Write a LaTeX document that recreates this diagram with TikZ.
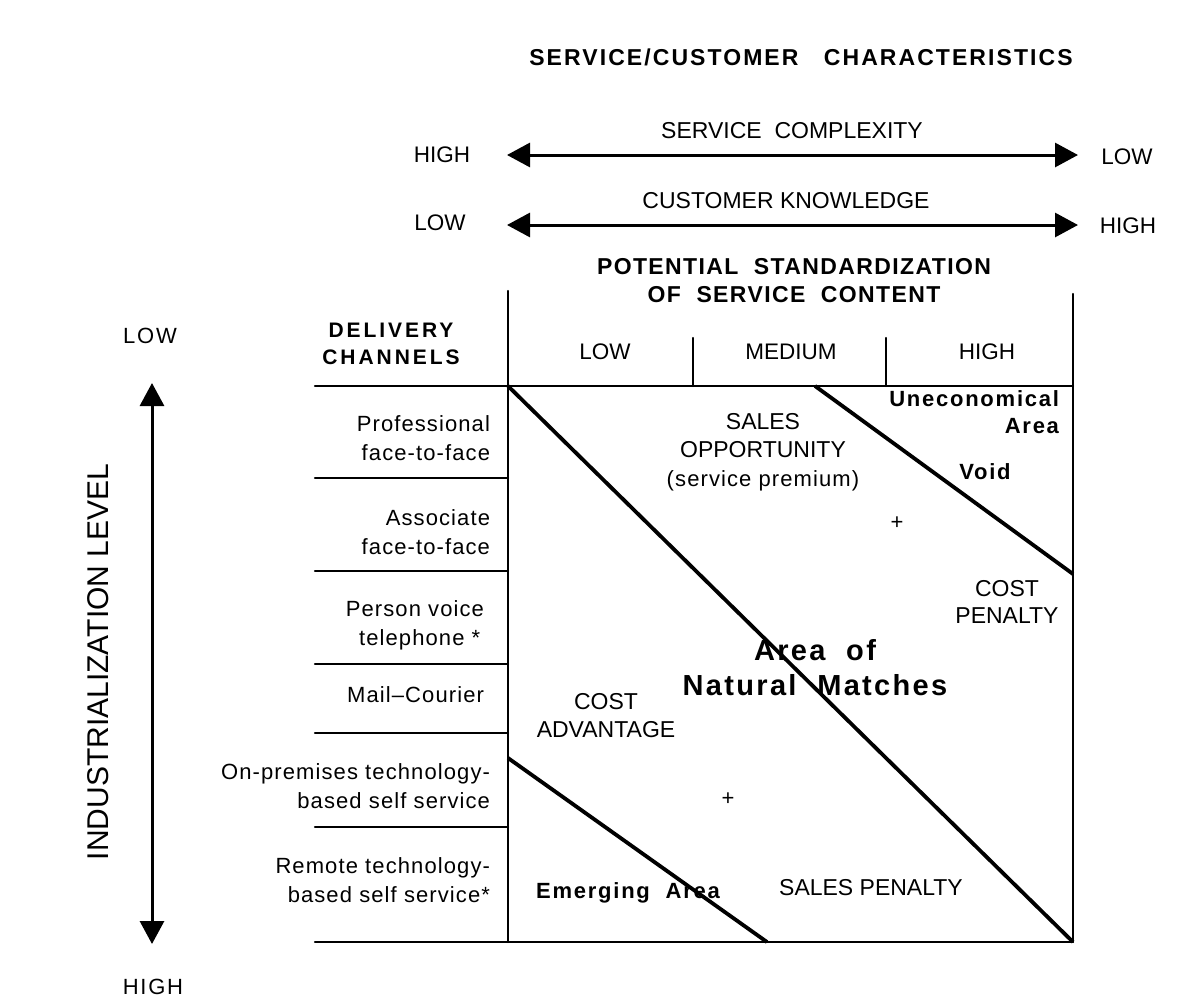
\documentclass[tikz,border=0pt]{standalone}
\usepackage{fontspec}
\setmainfont{Liberation Sans}
\newfontfamily\lsA[LetterSpace=5]{Liberation Sans}
\newfontfamily\lsB[LetterSpace=8]{Liberation Sans}
\newfontfamily\lsC[LetterSpace=14]{Liberation Sans}
\newfontfamily\lsT[LetterSpace=9]{Liberation Sans}
\newfontfamily\lsP[LetterSpace=6]{Liberation Sans}
\usetikzlibrary{arrows.meta}
\begin{document}
\begin{tikzpicture}[x=1pt,y=-1pt,
  txt/.style={inner sep=0pt, outer sep=0pt, align=center, font=\fontsize{23}{28.5}\selectfont},
  rowlab/.style={inner sep=0pt, outer sep=0pt, align=right, anchor=east, font=\lsA\fontsize{22}{29}\selectfont},
  boldlab/.style={inner sep=0pt, outer sep=0pt, align=center, font=\lsB\bfseries\fontsize{22}{26}\selectfont},
  grid/.style={line width=2.4pt, line cap=round},
  diag/.style={line width=3.8pt},
  dblarrow/.style={line width=3pt, {Triangle[width=24pt,length=23pt]}-{Triangle[width=24pt,length=23pt]}}
]
\useasboundingbox (0,0) rectangle (1181,1004);

% ---- header texts
\node[txt, font=\lsT\bfseries\fontsize{23}{28}\selectfont] (title) at (801,57) {SERVICE/CUSTOMER\ \ \ CHARACTERISTICS};
\node[txt] (sc) at (792,131) {SERVICE\ \ COMPLEXITY};
\node[txt] (ck) at (786,201) {CUSTOMER KNOWLEDGE};
\node[txt, font=\fontsize{22.5}{26}\selectfont] (sch) at (442,155) {HIGH};
\node[txt, font=\fontsize{22.5}{26}\selectfont] (scl) at (1127,157) {LOW};
\node[txt, font=\fontsize{22.5}{26}\selectfont] (ckl) at (440,223) {LOW};
\node[txt, font=\fontsize{22.5}{26}\selectfont] (ckh) at (1128,226) {HIGH};
\coordinate (a1l) at (507,155);
\coordinate (a1r) at (1078,155);
\coordinate (a2l) at (507,225);
\coordinate (a2r) at (1078,225);
\draw[dblarrow] (a1l) -- (a1r);
\draw[dblarrow] (a2l) -- (a2r);

\node[txt, font=\lsP\bfseries\fontsize{23}{28}\selectfont] (pot) at (794,281) {POTENTIAL\ \ STANDARDIZATION\\OF\ \ SERVICE\ \ CONTENT};

% ---- left axis
\node[txt, font=\fontsize{22}{26}\selectfont\lsB] (il) at (150,336) {LOW};
\node[txt, font=\fontsize{22}{26}\selectfont\lsB] (ih) at (153,987) {HIGH};
\node[txt, font=\fontsize{30}{34}\selectfont, rotate=90] (ind) at (98,662) {INDUSTRIALIZATION LEVEL};
\coordinate (vt) at (152,383);
\coordinate (vb) at (152,944);
\draw[dblarrow] (vt) -- (vb);

% ---- grid
\coordinate (TL) at (508,386);
\coordinate (TR) at (1073,386);
\coordinate (BL) at (508,942);
\coordinate (BR) at (1073,942);
\coordinate (LT) at (508,291);
\coordinate (RT) at (1073,294);
\draw[grid] (LT) -- (BL);
\draw[grid] (RT) -- (BR);
\draw[grid] (315,386) -- (TR);
\draw[grid] (315,942) -- (BR);
\draw[grid] (693,338) -- (693,386);
\draw[grid] (886,338) -- (886,386);
\foreach \yy in {478,571,664,733,827} {\draw[grid] (315,\yy) -- (508,\yy);}

\node[txt, font=\fontsize{22.5}{26}\selectfont] (hlow) at (605,352) {LOW};
\node[txt, font=\fontsize{22.5}{26}\selectfont] (hmed) at (791,352) {MEDIUM};
\node[txt, font=\fontsize{22.5}{26}\selectfont] (hhigh) at (987,352) {HIGH};

\node[txt, font=\lsC\bfseries\fontsize{21}{27}\selectfont] (dc) at (391,344) {DELIVERY\\CHANNELS};

% ---- row labels
\node[rowlab] (r1) at (490,438) {Professional\\face-to-face};
\node[rowlab] (r2) at (490,532) {Associate\\face-to-face};
\node[rowlab] (r3) at (484,625) {Person voice\\telephone *\,};
\node[rowlab] (r4) at (484,695) {Mail–Courier};
\node[rowlab] (r5) at (490,786) {On-premises technology-\\based self service};
\node[rowlab] (r6) at (490,880) {Remote technology-\\based self service*};

% ---- diagonals
\coordinate (u1) at (815,386);
\coordinate (u2) at (1073,574);
\coordinate (l1) at (508,758);
\coordinate (l2) at (767,942);
\draw[diag] (TL) -- (BR);
\draw[diag] (u1) -- (u2);
\draw[diag] (l1) -- (l2);

% ---- region labels
\node[boldlab, align=right, anchor=north east, font=\lsB\bfseries\fontsize{22}{27}\selectfont] (unec) at (1059,391) {Uneconomical\\Area};
\node[boldlab] (void) at (985,472) {Void};
\node[txt, font=\fontsize{23}{28.5}\selectfont] (sales) at (763,452) {SALES\\OPPORTUNITY\\{\lsA\fontsize{22}{28.5}\selectfont(service premium)}};
\node[txt, font=\fontsize{22}{26}\selectfont] (plus1) at (897,523) {+};
\node[txt, font=\fontsize{23}{27}\selectfont] (cp) at (1007,602) {COST\\PENALTY};
\node[txt, font=\lsB\bfseries\fontsize{29}{35}\selectfont] (anm) at (815,668) {Area\ \ of\\Natural\ \ Matches};
\node[txt, font=\fontsize{23}{28}\selectfont] (ca) at (606,716) {COST\\ADVANTAGE};
\node[txt, font=\fontsize{22}{26}\selectfont] (plus2) at (728,799) {+};
\node[boldlab] (emer) at (628,893) {Emerging\ \ Area};
\node[txt, font=\fontsize{23}{27}\selectfont] (sp) at (871,888) {SALES PENALTY};
\end{tikzpicture}
\end{document}
